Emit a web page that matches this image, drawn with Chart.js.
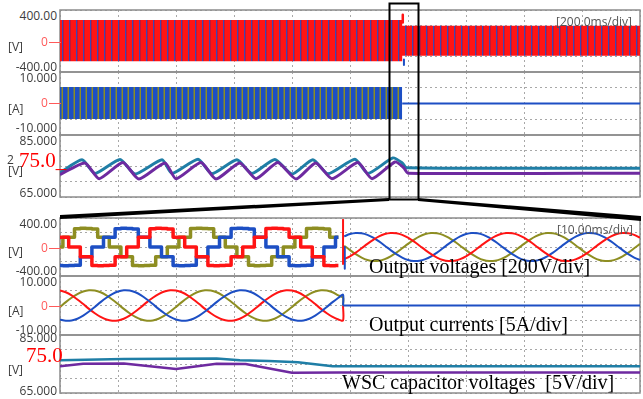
<!DOCTYPE html>
<html>
<head>
<meta charset="utf-8">
<script src="https://cdn.jsdelivr.net/npm/chart.js@4.4.0/dist/chart.umd.min.js"></script>
<style>
body{margin:0;background:#fff;width:643px;height:399px;overflow:hidden;position:relative;font-family:"Open Sans",sans-serif}
canvas{position:absolute}
.lb{position:absolute;font-size:12px;color:#3c3c3c;line-height:14px;white-space:nowrap}
.big{position:absolute;font-family:"Liberation Serif","Times New Roman",serif;color:#f00;font-size:21px;line-height:22px;white-space:nowrap}
.cap{position:absolute;font-family:"Liberation Serif","Times New Roman",serif;color:#000;font-size:20px;line-height:22px;white-space:pre}
.tick{position:absolute;height:1px;background:#ff5a5a;width:12px;left:49px}
</style>
</head>
<body>
<script>
// ---------- top window (200 ms/div, 0..2000 ms) ----------
const topFaultMs = 1180;
const topVoltEnvT = [0, 1180, 1180, 2000];
const topVoltUpper = [272, 272, 196, 196];
const topVoltLower = [-262, -262, -190, -190];
const topVoltSpikeRed = [250, 340, 240];
const topVoltSpikeBlue = [-240, -310];
const topCurEnvT = [0, 1180];
const topCurUpper = [5.2, 5.2];
const topCurLower = [-4.9, -4.9];
const topCurAfterT = [1180, 2000];
const topCurAfter = [0, 0];

const topCapTealT = [0, 76, 121, 207, 259, 352, 386, 476, 524, 610, 662, 741, 800, 872, 924, 1017, 1062, 1148, 1180, 1195, 2000];
const topCapTeal = [72.8, 77.0, 72.6, 77.1, 72.4, 77.0, 72.6, 77.2, 72.5, 77.0, 72.6, 77.1, 72.4, 77.0, 72.5, 77.2, 72.6, 77.6, 76.0, 74.4, 74.3];
const topCapPurpleT = [0, 86, 135, 217, 272, 362, 400, 486, 538, 620, 676, 751, 814, 882, 938, 1027, 1076, 1155, 1185, 1200, 2000];
const topCapPurple = [72.2, 76.0, 70.9, 76.1, 70.8, 76.0, 70.9, 76.1, 70.8, 76.0, 70.9, 76.1, 70.8, 76.0, 70.9, 76.1, 70.9, 76.3, 74.5, 72.7, 72.7];

// ---------- bottom window (10 ms/div, 0..100 ms), 1 ms samples ----------
const faultMs = 48.8;
const preVoltOlive = [0,135,135,252,258,255,250,135,135,0,0,-135,-135,-255,-260,-255,-250,-135,-135,0,
  0,135,135,255,260,255,252,135,135,0,0,-135,-135,-252,-258,-255,-250,-135,-135,0,
  0,135,135,255,258,255,250,135,135];
const preVoltBlue = [-255,-258,-255,-250,-135,-135,0,0,135,135,252,258,255,250,135,135,0,0,-135,-135,
  -255,-260,-255,-252,-135,-135,0,0,135,135,255,260,255,250,135,135,0,0,-135,-135,
  -255,-258,-255,-250,-135,-135,0,0,135];
const preVoltRed = [135,135,0,0,-135,-135,-255,-260,-255,-250,-135,-135,0,0,135,135,252,258,255,250,
  135,135,0,0,-135,-135,-255,-258,-255,-252,-135,-135,0,0,135,135,255,260,255,250,
  135,135,0,0,-135,-135,-255,-258,-255];
const postVoltOlive = [18,-43,-99,-146,-179,-194,-190,-168,-129,-77,-18,43,99,146,179,194,
  190,168,129,77,18,-43,-99,-146,-179,-194,-190,-168,-129,-77,-18,43,99,146,179,194,
  190,168,129,77,18,-43,-99,-146,-179,-194,-190,-168,-129,-77,-18,43];
const postVoltBlue = [146,179,194,
  190,168,129,77,18,-43,-99,-146,-179,-194,-190,-168,-129,-77,-18,43,99,146,179,194,
  190,168,129,77,18,-43,-99,-146,-179,-194,-190,-168,-129,-77,-18,43,99,146,179,194,
  190,168,129,77,18,-43,-99,-146,-179];
const postVoltRed = [-168,-129,-77,-18,43,99,146,179,194,
  190,168,129,77,18,-43,-99,-146,-179,-194,-190,-168,-129,-77,-18,43,99,146,179,194,
  190,168,129,77,18,-43,-99,-146,-179,-194,-190,-168,-129,-77,-18,43,99,146,179,194,
  190,168,129];
const faultSpikeRed = [-245, 385];
const faultSpikeBlue = [0, -300];

const preCurOlive = [-0.48,1.15,2.64,3.89,4.77,5.17,
  5.07,4.48,3.44,2.05,0.48,-1.15,-2.64,-3.89,-4.77,-5.17,-5.07,-4.48,-3.44,-2.05,-0.48,1.15,2.64,3.89,4.77,5.17,
  5.07,4.48,3.44,2.05,0.48,-1.15,-2.64,-3.89,-4.77,-5.17,-5.07,-4.48,-3.44,-2.05,-0.48,1.15,2.64,3.89,4.77,5.17,
  5.07,4.48,3.44];
const preCurBlue = [-4.77,-5.17,-5.07,-4.48,-3.44,-2.05,-0.48,1.15,2.64,3.89,4.77,5.17,
  5.07,4.48,3.44,2.05,0.48,-1.15,-2.64,-3.89,-4.77,-5.17,-5.07,-4.48,-3.44,-2.05,-0.48,1.15,2.64,3.89,4.77,5.17,
  5.07,4.48,3.44,2.05,0.48,-1.15,-2.64,-3.89,-4.77,-5.17,-5.07,-4.48,-3.44,-2.05,-0.48,1.15,2.64];
const preCurRed = [5.07,4.48,3.44,2.05,0.48,-1.15,-2.64,-3.89,-4.77,-5.17,-5.07,-4.48,-3.44,-2.05,-0.48,1.15,2.64,3.89,4.77,5.17,
  5.07,4.48,3.44,2.05,0.48,-1.15,-2.64,-3.89,-4.77,-5.17,-5.07,-4.48,-3.44,-2.05,-0.48,1.15,2.64,3.89,4.77,5.17,
  5.07,4.48,3.44,2.05,0.48,-1.15,-2.64,-3.89,-4.77];
const postCurT = [48.8, 100];
const postCur = [0, 0];

const botCapTealT = [0, 11, 27, 31, 36, 41, 47, 100];
const botCapTeal = [76.3, 76.7, 76.9, 76.3, 76.0, 75.6, 74.2, 74.2];
const botCapPurpleT = [0, 4, 11, 20, 27, 32, 40, 48, 100];
const botCapPurple = [74.2, 75.1, 75.2, 73.3, 75.1, 75.0, 72.0, 72.1, 72.1];

const RED = '#ff1414', BLUE = '#1d4fc4', OLIVE = '#8e8e22', TEAL = '#1f7ea6', PURPLE = '#6e2aa0';

function xy(ts, vs) { return vs.map((v, i) => ({ x: ts[i], y: v })); }
function seq(start, vs) { return vs.map((v, i) => ({ x: start + i, y: v })); }
function at(x, vs) { return vs.map(v => ({ x: x, y: v })); }

function stripes(cols) {
    const c = document.createElement('canvas');
    c.width = cols.length; c.height = 1;
    const g = c.getContext('2d');
    cols.forEach((col, i) => { g.fillStyle = col; g.fillRect(i, 0, 1, 1); });
    return g.createPattern(c, 'repeat');
}

// grey frame round each panel
const frame = {
    id: 'frame',
    beforeDatasetsDraw(chart) {
        const a = chart.chartArea, g = chart.ctx;
        g.save();
        g.strokeStyle = '#8c8c8c';
        g.lineWidth = 1.5;
        g.strokeRect(a.left, a.top, a.right - a.left, a.bottom - a.top);
        g.restore();
    }
};

function panel(rect, xr, yr, datasets, padTop) {
    const pt = padTop || 2;
    const c = document.createElement('canvas');
    c.width = rect[2] - rect[0] + 4;
    c.height = rect[3] - rect[1] + pt + 2;
    c.style.left = (rect[0] - 2) + 'px';
    c.style.top = (rect[1] - pt) + 'px';
    document.body.appendChild(c);
    const grid = { color: '#a8a8a8', drawTicks: false, lineWidth: 1 };
    return new Chart(c.getContext('2d'), {
        type: 'line',
        data: { datasets: datasets },
        options: {
            responsive: false,
            animation: false,
            devicePixelRatio: 1,
            layout: { padding: { left: 2, right: 2, top: pt, bottom: 2 } },
            elements: { point: { radius: 0 }, line: { borderJoinStyle: 'round' } },
            plugins: { legend: { display: false }, tooltip: { enabled: false } },
            scales: {
                x: { type: 'linear', min: xr[0], max: xr[1], ticks: { display: false, stepSize: xr[2] }, grid: grid, border: { display: false, dash: [2, 3] } },
                y: { type: 'linear', min: yr[0], max: yr[1], ticks: { display: false, stepSize: yr[2] }, grid: grid, border: { display: false, dash: [2, 3] } }
            }
        },
        plugins: [frame]
    });
}

function line(data, color, w, extra) {
    return Object.assign({ data: data, borderColor: color, borderWidth: w, fill: false, tension: 0 }, extra || {});
}

// ----- top window -----
panel([60, 10, 640, 72], [0, 2000, 200], [-400, 400, 200], [
    line(at(topFaultMs + 2, topVoltSpikeRed), RED, 2.5, { clip: false }),
    line(at(topFaultMs + 6, topVoltSpikeBlue), BLUE, 2, { clip: false }),
    line(xy(topVoltEnvT, topVoltUpper), 'rgba(0,0,0,0)', 0, { fill: '+1', backgroundColor: stripes([RED, RED, RED, RED, '#3a48b8', '#c01838', RED]) }),
    line(xy(topVoltEnvT, topVoltLower), 'rgba(0,0,0,0)', 0)
], 10);

panel([60, 72, 640, 135], [0, 2000, 200], [-10, 10, 5], [
    line(xy(topCurAfterT, topCurAfter), BLUE, 2),
    line(xy(topCurEnvT, topCurUpper), 'rgba(0,0,0,0)', 0, { fill: '+1', backgroundColor: stripes([BLUE, BLUE, BLUE, '#4f6e7a', OLIVE, BLUE]) }),
    line(xy(topCurEnvT, topCurLower), 'rgba(0,0,0,0)', 0)
]);

panel([60, 135, 640, 197], [0, 2000, 200], [65, 85, 5], [
    line(xy(topCapPurpleT, topCapPurple), PURPLE, 3, { tension: 0.2 }),
    line(xy(topCapTealT, topCapTeal), TEAL, 3, { tension: 0.2 })
]);

// ----- bottom window -----
panel([60, 218, 640, 276], [0, 100, 10], [-400, 400, 200], [
    line(at(faultMs, faultSpikeRed), RED, 2, { clip: false }),
    line(at(faultMs + 0.3, faultSpikeBlue), BLUE, 2),
    line(seq(0, preVoltRed), RED, 3.5, { stepped: 'middle' }),
    line(seq(0, preVoltBlue), BLUE, 3.5, { stepped: 'middle' }),
    line(seq(0, preVoltOlive), OLIVE, 3.5, { stepped: 'middle' }),
    line(seq(49, postVoltRed), RED, 2, { tension: 0.4 }),
    line(seq(49, postVoltBlue), BLUE, 2, { tension: 0.4 }),
    line(seq(49, postVoltOlive), OLIVE, 2, { tension: 0.4 })
]);

panel([60, 276, 640, 335], [0, 100, 10], [-10, 10, 5], [
    line(xy(postCurT, postCur), BLUE, 2),
    line(seq(0, preCurBlue).concat(at(faultMs, [preCurBlue[48] + 1, 0])), BLUE, 2, { tension: 0.3 }),
    line(seq(0, preCurRed).concat(at(faultMs, [preCurRed[48] - 0.3, 0])), RED, 2, { tension: 0.3 }),
    line(seq(0, preCurOlive).concat(at(faultMs, [preCurOlive[48] - 0.8, 0])), OLIVE, 2, { tension: 0.3 })
]);

panel([60, 335, 640, 393], [0, 100, 10], [65, 85, 5], [
    line(xy(botCapPurpleT, botCapPurple), PURPLE, 2.5),
    line(xy(botCapTealT, botCapTeal), TEAL, 2.5)
]);

// ----- axis texts -----
function lbl(text, cy, left) {
    const d = document.createElement('div');
    d.className = 'lb';
    d.textContent = text;
    d.style.top = (cy - 7) + 'px';
    if (left === undefined) { d.style.right = '586px'; } else { d.style.left = left + 'px'; }
    document.body.appendChild(d);
    return d;
}
function zero(cy) {
    const d = lbl('0', cy, 41);
    d.style.color = '#ff5a5a';
    const t = document.createElement('div');
    t.className = 'tick';
    t.style.top = cy + 'px';
    document.body.appendChild(t);
}
function big(text, cy, left) {
    const d = document.createElement('div');
    d.className = 'big';
    d.textContent = text;
    d.style.top = (cy - 11) + 'px';
    d.style.left = left + 'px';
    document.body.appendChild(d);
}
function cap(text, cy, left) {
    const d = document.createElement('div');
    d.className = 'cap';
    d.textContent = text;
    d.style.top = (cy - 11) + 'px';
    d.style.left = left + 'px';
    document.body.appendChild(d);
}

lbl('400.00', 16); lbl('[V]', 47, 8); zero(42); lbl('-400.00', 67);
lbl('10.000', 78); lbl('[A]', 109, 8); zero(103); lbl('-10.000', 128);
lbl('85.000', 141); lbl('2', 160, 7); lbl('[V]', 171, 8); lbl('65.000', 193);
big('75.0_', 160, 19);

lbl('400.00', 224); lbl('[V]', 252, 8); zero(248); lbl('-400.00', 271);
lbl('10.000', 282); lbl('[A]', 311, 8); zero(306); lbl('-10.000', 330);
lbl('85.000', 338); lbl('[V]', 370, 8); lbl('65.000', 391);
big('75.0', 355, 26);

lbl('[200.0ms/div]', 22, 556).style.color = '#555';
lbl('[10.00ms/div]', 230, 557).style.color = '#555';

cap('Output voltages [200V/div]', 266, 369);
cap('Output currents [5A/div]', 324, 369);
cap('WSC capacitor voltages  [5V/div]', 382, 342);
</script>
<svg width="643" height="399" style="position:absolute;left:0;top:0;z-index:5">
  <rect x="389.5" y="3.5" width="29" height="196" fill="none" stroke="#000" stroke-width="2"/>
  <polygon points="389,198 60,215 60,219 389,201" fill="#000"/>
  <polygon points="418,198 641,216 641,221 418,201" fill="#000"/>
</svg>
</body>
</html>
